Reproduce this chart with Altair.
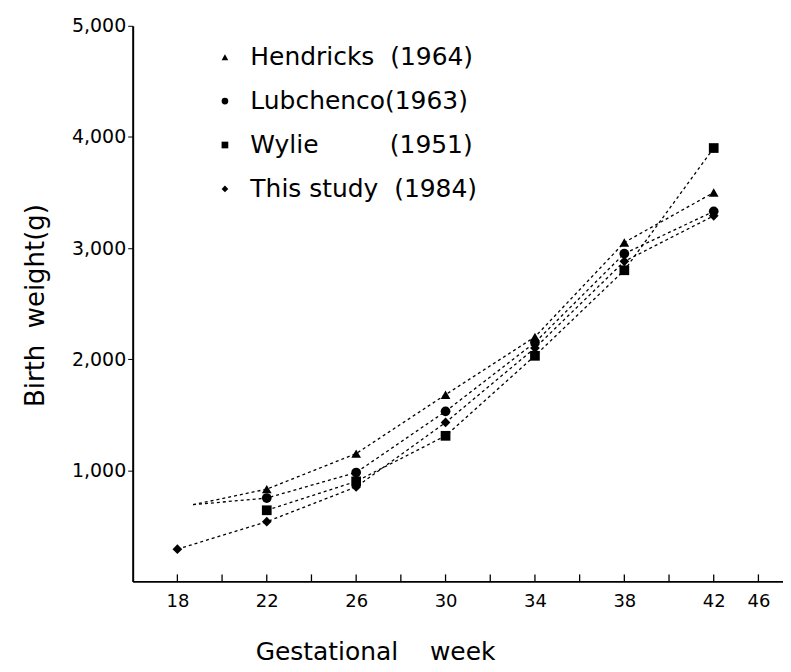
import altair as alt
import pandas as pd

# ---- data ----
series_names = [
    "Hendricks\u00a0\u00a0(1964)",
    "Lubchenco(1963)",
    "Wylie\u00a0\u00a0\u00a0\u00a0\u00a0\u00a0\u00a0\u00a0\u00a0(1951)",
    "This study\u00a0\u00a0(1984)",
]
hendricks_weeks = [18.7, 22, 26, 30, 34, 38, 42]
hendricks_wt = [690, 830, 1150, 1680, 2200, 3050, 3500]
lubchenco_weeks = [18.7, 22, 26, 30, 34, 38, 42]
lubchenco_wt = [690, 750, 980, 1530, 2150, 2950, 3330]
wylie_weeks = [22, 26, 30, 34, 38, 42]
wylie_wt = [640, 900, 1310, 2030, 2800, 3900]
this_weeks = [18, 22, 26, 30, 34, 38, 42]
this_wt = [290, 537, 850, 1430, 2100, 2880, 3290]

x_tick_values = [18, 20, 22, 24, 26, 28, 30, 32, 34, 36, 38, 40, 42, 44]
y_tick_values = [1000, 2000, 3000, 4000, 5000]
shapes = ["triangle-up", "circle", "square", "diamond"]

rows = []
for name, wk, wt in zip(series_names,
                        [hendricks_weeks, lubchenco_weeks, wylie_weeks, this_weeks],
                        [hendricks_wt, lubchenco_wt, wylie_wt, this_wt]):
    for a, b in zip(wk, wt):
        rows.append({"series": name, "week": a, "weight": b})
df = pd.DataFrame(rows)
ticks_df = pd.DataFrame({"week": x_tick_values})

FONT = "DejaVu Sans"

x_scale = alt.Scale(domain=[16, 45.1], nice=False, zero=False)
y_scale = alt.Scale(domain=[0, 5000], nice=False)

base = alt.Chart(df)

lines = base.mark_line(color="black", strokeDash=[3, 3], strokeWidth=1.3).encode(
    x=alt.X("week:Q", scale=x_scale,
            axis=alt.Axis(values=x_tick_values, ticks=False, grid=False,
                          domainColor="black", domainWidth=2,
                          labelExpr="datum.value == 44 ? '46' : (datum.value % 4 == 2 ? datum.label : '')",
                          labelFontSize=18, labelColor="black", labelFont=FONT,
                          labelPadding=11,
                          title="Gestational\u00a0\u00a0\u00a0\u00a0week",
                          titleFontSize=25, titleFont=FONT, titleFontWeight="normal",
                          titleColor="black", titleX=243, titleY=58,
                          titleAlign="center", titleAnchor="start")),
    y=alt.Y("weight:Q", scale=y_scale,
            axis=alt.Axis(values=y_tick_values, format=",.0f", grid=False,
                          domainColor="black", domainWidth=2,
                          tickColor="black", tickSize=5,
                          labelFontSize=19, labelColor="black", labelFont=FONT,
                          labelPadding=2,
                          title="Birth\u00a0\u00a0weight(g)",
                          titleFontSize=26, titleFont=FONT, titleFontWeight="normal",
                          titleColor="black", titleX=-84, titleY=280,
                          titleAlign="center", titleAnchor="start")),
    detail="series:N",
)

points = base.transform_filter("datum.week % 2 == 0").mark_point(
    filled=True, color="black", opacity=1, size=95
).encode(
    x=alt.X("week:Q", scale=x_scale),
    y=alt.Y("weight:Q", scale=y_scale),
    shape=alt.Shape("series:N",
                    scale=alt.Scale(domain=series_names, range=shapes),
                    legend=alt.Legend(title=None, orient="none", legendX=80, legendY=19,
                                      labelFontSize=25, labelFont=FONT, labelColor="black",
                                      symbolFillColor="black", symbolStrokeColor="black",
                                      symbolSize=45, rowPadding=18, labelOffset=13,
                                      labelLimit=400)),
)

xticks = alt.Chart(ticks_df).mark_rule(color="black", strokeWidth=1.3).encode(
    x=alt.X("week:Q", scale=x_scale),
    y=alt.value(557),
    y2=alt.value(550),
)

chart = alt.layer(lines, points, xticks).properties(
    width=652, height=557,
    autosize=alt.AutoSizeParams(type="none"),
    padding={"left": 125, "top": 17, "right": 0, "bottom": 90},
).configure(background="white").configure_view(stroke=None)

chart.save("out.html", embed_options={"renderer": "svg", "actions": False})
